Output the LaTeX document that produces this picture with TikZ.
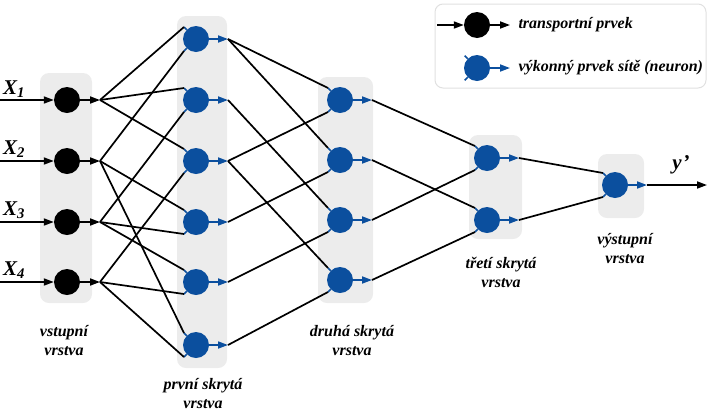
\documentclass[tikz,border=0pt]{standalone}
\usepackage{fontspec}
\setmainfont{Liberation Serif}
\usetikzlibrary{arrows.meta}

\definecolor{neuronblue}{RGB}{11,79,158}
\definecolor{layergray}{RGB}{236,236,236}

\begin{document}
\begin{tikzpicture}[x=1pt,y=-1pt,
	transp/.style={circle,fill=black,minimum size=26pt,inner sep=0pt},
	neuron/.style={circle,fill=neuronblue,minimum size=26pt,inner sep=0pt},
	layer/.style={fill=layergray,rounded corners=9pt},
	link/.style={line width=1.7pt},
	blk/.style={line width=1.7pt,-{Triangle[length=10pt,width=7pt]}},
	blu/.style={neuronblue,line width=1.7pt,-{Triangle[length=10pt,width=7pt]}},
	spike/.style={neuronblue,line width=1.7pt},
	lbl/.style={font=\fontsize{16}{19}\selectfont\bfseries\itshape,align=center},
	xlbl/.style={font=\fontsize{21}{24}\selectfont\bfseries\itshape}]
\useasboundingbox (0,0) rectangle (708,413);

% layer backgrounds
\fill[layer] (40,73) rectangle (92,303);
\fill[layer] (177,16) rectangle (227,368);
\fill[layer] (318,77) rectangle (373,303);
\fill[layer] (469,135) rectangle (522,239);
\fill[layer] (598,154) rectangle (644,218);

% legend
\draw[black!12,line width=1pt,rounded corners=8pt] (435,4) rectangle (706,88);
\node [transp] (l1) at (477,25) {};
\node [neuron] (l2) at (477,68) {};
\coordinate (l1-i) at (437,25);
\coordinate (l1-o) at (510,25);
\coordinate (l2-o) at (510,68);
\draw [blk] (l1-i) -- (l1);
\draw [blk] (l1) -- (l1-o);
\draw [blu] (l2) -- (l2-o);
\draw [spike] (l2.135) -- ++(-3,-3);
\draw [spike] (l2.225) -- ++(-3,3);
\node [lbl,anchor=west] (t1) at (515,25) {transportní prvek};
\node [lbl,anchor=west] (t2) at (515,68) {výkonný prvek sítě (neuron)};

% input layer
\node [transp] (a1) at (67,100) {};
\node [transp] (a2) at (67,161) {};
\node [transp] (a3) at (67,222) {};
\node [transp] (a4) at (67,282) {};

% hidden layers
\node [neuron] (b1) at (196,39) {};
\node [neuron] (b2) at (196,100) {};
\node [neuron] (b3) at (196,161) {};
\node [neuron] (b4) at (196,222) {};
\node [neuron] (b5) at (196,282) {};
\node [neuron] (b6) at (196,345) {};

\node [neuron] (c1) at (340,100) {};
\node [neuron] (c2) at (340,160) {};
\node [neuron] (c3) at (340,220) {};
\node [neuron] (c4) at (340,280) {};

\node [neuron] (d1) at (487,158) {};
\node [neuron] (d2) at (487,220) {};

% output layer
\node [neuron] (e) at (615,185) {};

% inputs
\foreach \i/\y in {1/100,2/161,3/222,4/282}{
	\coordinate (x\i) at (0,\y);
	\draw [blk] (x\i) -- (a\i);
	\coordinate (a\i-o) at ([shift={(33,0)}]a\i.center);
	\draw [blk] (a\i) -- (a\i-o);
}
\node [xlbl] (x1l) at (14,89) {X\textsubscript{1}};
\node [xlbl] (x2l) at (14,149) {X\textsubscript{2}};
\node [xlbl] (x3l) at (14,210) {X\textsubscript{3}};
\node [xlbl] (x4l) at (14,270) {X\textsubscript{4}};

% neuron inputs and outputs
\foreach \n in {b1,b2,b3,b4,b5,b6,c1,c2,c3,c4,d1,d2,e}{
	\coordinate (\n-u) at ([shift={(-12,-12)}]\n.center);
	\coordinate (\n-l) at ([shift={(-12,12)}]\n.center);
	\coordinate (\n-o) at ([shift={(32,0)}]\n.center);
	\draw [spike] (\n.135) -- (\n-u);
	\draw [spike] (\n.225) -- (\n-l);
	\draw [blu] (\n) -- (\n-o);
}

% input -> first hidden
\draw [link] (a1-o) -- (b1-u);
\draw [link] (a1-o) -- (b2-u);
\draw [link] (a1-o) -- (b3-u);
\draw [link] (a2-o) -- (b1-l);
\draw [link] (a2-o) -- (b4-u);
\draw [link] (a2-o) -- (b6-u);
\draw [link] (a3-o) -- (b2-l);
\draw [link] (a3-o) -- (b4-l);
\draw [link] (a3-o) -- (b5-u);
\draw [link] (a4-o) -- (b3-l);
\draw [link] (a4-o) -- (b5-l);
\draw [link] (a4-o) -- (b6-l);

% first -> second hidden
\draw [link] (b1-o) -- (c1-u);
\draw [link] (b1-o) -- (c2-u);
\draw [link] (b2-o) -- (c3-u);
\draw [link] (b3-o) -- (c1-l);
\draw [link] (b3-o) -- (c4-u);
\draw [link] (b4-o) -- (c2-l);
\draw [link] (b5-o) -- (c3-l);
\draw [link] (b6-o) -- (c4-l);

% second -> third hidden
\draw [link] (c1-o) -- (d1-u);
\draw [link] (c2-o) -- (d2-u);
\draw [link] (c3-o) -- (d1-l);
\draw [link] (c4-o) -- (d2-l);

% third -> output
\draw [link] (d1-o) -- (e-u);
\draw [link] (d2-o) -- (e-l);

\coordinate (yout) at (707,185);
\draw [blk] (e-o) -- (yout);
\node [xlbl] (yl) at (681,165) {y\kern1pt’};

% layer names
\node [lbl] (n1) at (64,341) {vstupní\\vrstva};
\node [lbl] (n2) at (203,394) {první skrytá\\vrstva};
\node [lbl] (n3) at (352,341) {druhá skrytá\\vrstva};
\node [lbl] (n4) at (501,272) {třetí skrytá\\vrstva};
\node [lbl] (n5) at (625,249) {výstupní\\vrstva};
\end{tikzpicture}
\end{document}
